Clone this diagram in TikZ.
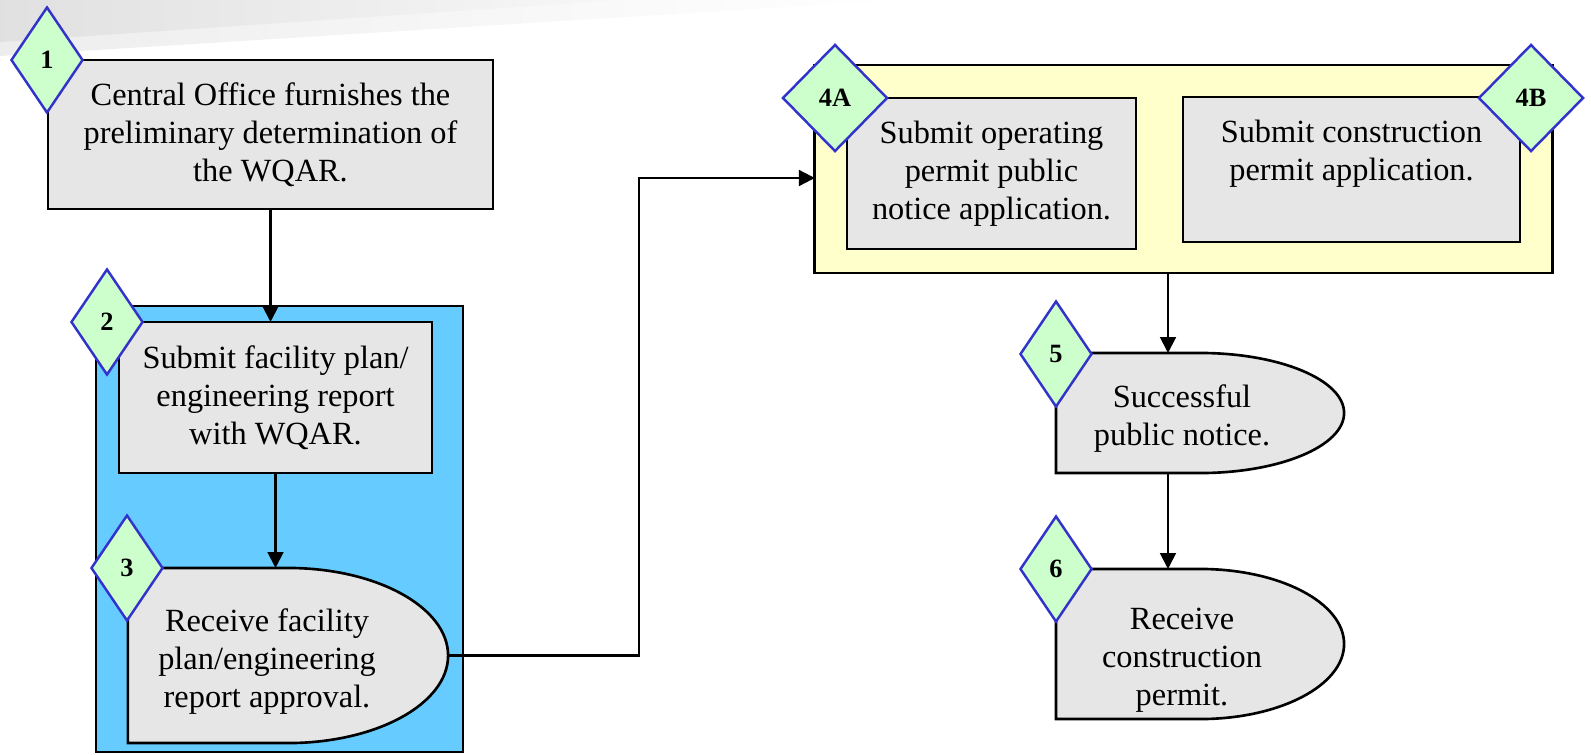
\documentclass[tikz,border=0pt]{standalone}
\usepackage{fontspec}
\setmainfont{Liberation Serif}
\usepackage{tikz}
\usetikzlibrary{arrows.meta, shapes.geometric}

\definecolor{boxgray}{HTML}{E6E6E6}
\definecolor{skyblue}{HTML}{66CCFF}
\definecolor{paleyellow}{HTML}{FFFFCC}
\definecolor{palegreen}{HTML}{CCFFCC}
\definecolor{tagblue}{HTML}{3333CC}

\begin{document}
\begin{tikzpicture}[x=0.01cm, y=-0.01cm,
    every node/.style={font=\fontsize{9.2}{10.8}\selectfont, align=center, inner sep=0pt, outer sep=0pt},
    stepbox/.style={draw, line width=0.75pt, fill=boxgray},
    tag/.style={diamond, draw=tagblue, line width=0.7pt, fill=palegreen, minimum width=0.71cm, minimum height=1.05cm, font=\fontsize{7.5}{8}\selectfont\bfseries},
    arr/.style={-{Triangle[length=4.5pt,width=4.5pt]}, line width=0.6pt}]
            \useasboundingbox (0,0) rectangle (1591,754);
            % slide band
            \shade[left color=black!7, right color=white] (0,0) -- (900,0) -- (0,56) -- cycle;
            \shade[left color=black!12, right color=black!3] (0,0) -- (620,0) -- (0,42) -- cycle;

            % left column
            \node[stepbox, minimum width=4.45cm, minimum height=1.49cm] at (270.5,134.5)   (office) {Central Office furnishes the\\preliminary determination of\\the WQAR.};
            \node[draw, line width=0.75pt, fill=skyblue, minimum width=3.67cm, minimum height=4.46cm] at (279.5,529)   (planarea) {};
            \node[stepbox, minimum width=3.13cm, minimum height=1.51cm] at (275.5,397.5)   (facility) {Submit facility plan/\\engineering report\\with WQAR.};
            \node[minimum width=3.2cm, minimum height=1.75cm] at (288,655.5)   (approval) {};
            \draw[stepbox] (approval.north west) -- (approval.north) arc[start angle=90, end angle=-90, x radius=1.6cm, y radius=0.875cm] -| (approval.north west) -- cycle;
            \node at (267,662)   (approvaltext) {Receive facility\\plan/engineering\\report approval.};

            % right column
            \node[draw, line width=0.75pt, fill=paleyellow, minimum width=7.37cm, minimum height=2.08cm] at (1183.5,169)   (permits) {};
            \node[stepbox, minimum width=2.89cm, minimum height=1.51cm] at (991.5,173.5)   (operating) {Submit operating\\permit public\\notice application.};
            \node[stepbox, minimum width=3.37cm, minimum height=1.45cm] at (1351.5,169.5)   (construction) {Submit construction\\permit application.\\~};
            \node[minimum width=2.88cm, minimum height=1.2cm] at (1200,413)   (notice) {};
            \draw[stepbox] (notice.north west) -- (notice.north) arc[start angle=90, end angle=-90, x radius=1.44cm, y radius=0.6cm] -| (notice.north west) -- cycle;
            \node at (1182,419)   (noticetext) {Successful\\public notice.};
            \node[minimum width=2.88cm, minimum height=1.5cm] at (1200,644)   (receipt) {};
            \draw[stepbox] (receipt.north west) -- (receipt.north) arc[start angle=90, end angle=-90, x radius=1.44cm, y radius=0.75cm] -| (receipt.north west) -- cycle;
            \node at (1182,660)   (receipttext) {Receive\\construction\\permit.};

            % step tags
            \node[tag] at (47,60)   (tag1) {1};
            \node[tag] at (107,322)   (tag2) {2};
            \node[tag] at (127,568)   (tag3) {3};
            \node[tag, minimum width=1.04cm, minimum height=1.06cm] at (835,98)   (tag4a) {4A};
            \node[tag, minimum width=1.04cm, minimum height=1.06cm] at (1531,98)   (tag4b) {4B};
            \node[tag] at (1056,354)   (tag5) {5};
            \node[tag] at (1056,569)   (tag6) {6};

            \coordinate (turn) at (639,178);
            \draw[arr] (office) -- (office |- facility.north);
            \draw[arr] (facility) -- (facility |- approval.north);
            \draw[arr] (approval.east) -| (turn) -- (turn -| permits.west);
            \draw[arr] ([xshift=-0.155cm]permits.south) -- ([xshift=-0.155cm]permits.south |- notice.north);
            \draw[arr] ([xshift=-0.32cm]notice.south) -- ([xshift=-0.32cm]receipt.north);
        \end{tikzpicture}
\end{document}
